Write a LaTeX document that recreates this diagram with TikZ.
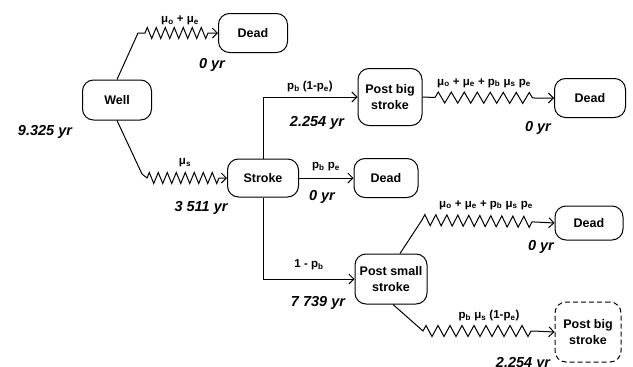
\documentclass[tikz,border=0pt]{standalone}
\usepackage{fontspec}
\setmainfont{Liberation Sans}
\usetikzlibrary{decorations.pathmorphing,arrows.meta}
\begin{document}
\begin{tikzpicture}[x=1pt,y=-1pt,
 box/.style={draw,line width=1pt,rounded corners=11pt,align=center,inner sep=0pt,font=\fontsize{12.5}{16}\selectfont\bfseries},
 yrs/.style={font=\fontsize{14.5}{17}\selectfont\bfseries\itshape},
 lbl/.style={font=\fontsize{11.5}{13}\selectfont\bfseries},
 conn/.style={line width=1pt,-{Straight Barb[length=5pt,width=10pt]}},
 zz/.style={decoration={zigzag,amplitude=5.5pt,segment length=#1}},
]
\useasboundingbox (0,0) rectangle (633,367);
% nodes
\node[box,minimum width=69pt,minimum height=40pt] (well) at (117,100) {Well};
\node[box,minimum width=69pt,minimum height=39pt] (dead1) at (253,33) {Dead};
\node[box,minimum width=71pt,minimum height=38pt] (stroke) at (263,178) {Stroke};
\node[box,minimum width=64pt,minimum height=57pt] (pbs) at (390,97) {Post big\\stroke};
\node[box,minimum width=71pt,minimum height=39pt] (dead2) at (590,98) {Dead};
\node[box,minimum width=64pt,minimum height=39pt] (dead3) at (386,178) {Dead};
\node[box,minimum width=72pt,minimum height=50pt] (pss) at (391,279) {Post small\\stroke};
\node[box,minimum width=68pt,minimum height=34pt] (dead4) at (589,223) {Dead};
\node[box,dashed,dash pattern=on 5pt off 3pt,minimum width=66pt,minimum height=60pt] (pbs2) at (588,332) {Post big\\stroke};
% connectors
\draw[conn] (well.north) -- (138,33) -- (145,33) decorate[zz=9pt]{-- (212,33)} -- (dead1.west);
\draw[conn] (well.south) -- (142,174) -- (147,178) decorate[zz=9pt]{-- (219,178)} -- (stroke.west);
\draw[conn] (stroke.north) |- (pbs.west);
\draw[conn] (pbs.east) -- (435,97.5) decorate[zz=13pt]{-- (535,98)} -- (dead2.west);
\draw[conn] (stroke.east) -- (dead3.west);
\draw[conn] (stroke.south) |- (pss.west);
\draw[conn] ([xshift=9pt]pss.north) -- (422,220) decorate[zz=11pt]{-- (535,222)} -- (dead4.west);
\draw[conn] ([xshift=2pt]pss.south) -- (423,331) decorate[zz=12pt]{-- (533,331)} -- (pbs2.west);
% edge labels
\node[lbl] (l1) at (180,20) {μ\textsubscript{o} + μ\textsubscript{e}};
\node[lbl] (l2) at (185,163) {μ\textsubscript{s}};
\node[lbl] (l3) at (310,87) {p\textsubscript{b} (1-p\textsubscript{e})};
\node[lbl] (l4) at (484,83) {μ\textsubscript{o} + μ\textsubscript{e} + p\textsubscript{b} μ\textsubscript{s} p\textsubscript{e}};
\node[lbl] (l5) at (326,167) {p\textsubscript{b} p\textsubscript{e}};
\node[lbl] (l6) at (309,265) {1 - p\textsubscript{b}};
\node[lbl] (l7) at (486,205) {μ\textsubscript{o} + μ\textsubscript{e} + p\textsubscript{b} μ\textsubscript{s} p\textsubscript{e}};
\node[lbl] (l8) at (489,316) {p\textsubscript{b} μ\textsubscript{s} (1-p\textsubscript{e})};
% durations
\node[yrs] (y1) at (45,132) {9.325 yr};
\node[yrs] (y2) at (212,65) {0 yr};
\node[yrs] (y3) at (201,208) {3 511 yr};
\node[yrs] (y4) at (317,123) {2.254 yr};
\node[yrs] (y5) at (538,128) {0 yr};
\node[yrs] (y6) at (322,197) {0 yr};
\node[yrs] (y7) at (318,303) {7 739 yr};
\node[yrs] (y8) at (541,247) {0 yr};
\node[yrs] (y9) at (523,364) {2.254 yr};
\end{tikzpicture}
\end{document}
